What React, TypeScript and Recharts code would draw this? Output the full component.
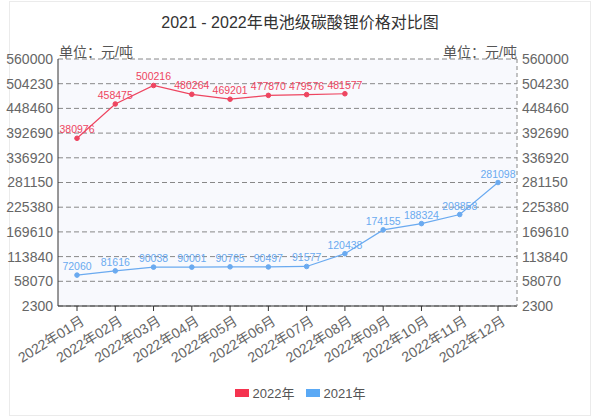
import React from 'react';
import { LineChart, Line, XAxis, YAxis, CartesianGrid, Legend, LabelList } from 'recharts';

const months = ['2022年01月', '2022年02月', '2022年03月', '2022年04月', '2022年05月', '2022年06月', '2022年07月', '2022年08月', '2022年09月', '2022年10月', '2022年11月', '2022年12月'];
const price2022: (number | null)[] = [380976, 458475, 500216, 480264, 469201, 477870, 479576, 481577, null, null, null, null];
const price2021: number[] = [72060, 81616, 90038, 90001, 90765, 90497, 91577, 120438, 174155, 188324, 208858, 281098];
const yTicks = [2300, 58070, 113840, 169610, 225380, 281150, 336920, 392690, 448460, 504230, 560000];
const seriesNames = ['2022年', '2021年'];
const title = '2021 - 2022年电池级碳酸锂价格对比图';
const unitText = '单位：元/吨';

const RED = '#ee4560';
const BLUE = '#6aaaf0';
const RED_KEY = '#f5334f';
const BLUE_KEY = '#5aa9f5';
const FONT = '"Liberation Sans", "Noto Sans CJK SC", sans-serif';

const data = months.map((m, i) => ({ month: m, y2022: price2022[i], y2021: price2021[i] }));

const XTick = (props: any) => {
  const { x, y, payload } = props;
  return (
    <g transform={`translate(${x + 3},${y + 2})`}>
      <text x={0} y={0} dy={10} textAnchor="end" transform="rotate(-32)" fill="#666" fontSize={14} fontFamily={FONT}>
        {payload.value}
      </text>
    </g>
  );
};

const LegendContent = (props: any) => {
  const payload = [...(props.payload || [])].sort(
    (a: any, b: any) => seriesNames.indexOf(a.value) - seriesNames.indexOf(b.value)
  );
  return (
    <div style={{ display: 'flex', justifyContent: 'center', alignItems: 'center', fontFamily: FONT, fontSize: 13, color: '#555' }}>
      {payload.map((p: any, i: number) => (
        <div key={i} style={{ display: 'flex', alignItems: 'center', marginRight: i === 0 ? 11 : 0 }}>
          <span style={{ display: 'inline-block', width: 14, height: 8, background: p.value === seriesNames[0] ? RED_KEY : BLUE_KEY, marginRight: 4 }} />
          <span>{p.value}</span>
        </div>
      ))}
    </div>
  );
};

export default function App() {
  return (
    <div style={{ position: 'absolute', left: 0, top: 0, width: 600, height: 420, background: '#fff', fontFamily: FONT }}>
      <div style={{ position: 'absolute', left: 9, top: 1, width: 582, height: 415, border: '1px solid #ebebeb', boxSizing: 'border-box' }} />
      <div style={{ position: 'absolute', left: 0, top: 13, width: 600, textAlign: 'center', fontSize: 16, lineHeight: '20px', color: '#333' }}>{title}</div>
      <div style={{ position: 'absolute', left: 59, top: 43, fontSize: 14, lineHeight: '18px', color: '#555' }}>{unitText}</div>
      <div style={{ position: 'absolute', right: 600 - 517, top: 43, fontSize: 14, lineHeight: '18px', color: '#555', textAlign: 'right' }}>{unitText}</div>
      <div style={{ position: 'absolute', left: 0, top: 0 }}>
        <LineChart width={600} height={420} data={data} margin={{ top: 59, right: 23, bottom: 0, left: 0 }}>
          <CartesianGrid yAxisId="left" vertical={false} strokeDasharray="5 3" stroke="#888" fill="#f8f9fd" />
          <XAxis dataKey="month" interval={0} padding={{ left: 19, right: 19 }} height={114} tick={<XTick />} tickSize={5} axisLine={{ stroke: '#333' }} tickLine={{ stroke: '#333' }} />
          <YAxis yAxisId="left" domain={[2300, 560000]} ticks={yTicks} width={58} tickLine={false} tickSize={3} tickMargin={2} axisLine={{ stroke: '#333' }} tick={{ fill: '#666', fontSize: 14, fontFamily: FONT }} allowDataOverflow />
          <YAxis yAxisId="right" orientation="right" domain={[2300, 560000]} ticks={yTicks} width={60} tickLine={false} tickSize={3} tickMargin={2} axisLine={{ stroke: '#888', strokeDasharray: '4 3' }} tick={{ fill: '#666', fontSize: 14, fontFamily: FONT }} allowDataOverflow />
          <Legend verticalAlign="middle" layout="horizontal" wrapperStyle={{ top: 383, left: 0, width: 600 }} content={<LegendContent />} />
          <Line yAxisId="left" name={seriesNames[0]} dataKey="y2022" type="linear" stroke={RED} strokeWidth={1.2} dot={{ r: 2.3, fill: RED, stroke: RED, strokeWidth: 1 }} isAnimationActive={false} connectNulls={false}>
            <LabelList dataKey="y2022" position="top" offset={5} fill={RED} fontSize={10.5} fontFamily={FONT} />
          </Line>
          <Line yAxisId="left" name={seriesNames[1]} dataKey="y2021" type="linear" stroke={BLUE} strokeWidth={1.2} dot={{ r: 2.3, fill: BLUE, stroke: BLUE, strokeWidth: 1 }} isAnimationActive={false}>
            <LabelList dataKey="y2021" position="top" offset={5} fill={BLUE} fontSize={10.5} fontFamily={FONT} />
          </Line>
        </LineChart>
      </div>
    </div>
  );
}
